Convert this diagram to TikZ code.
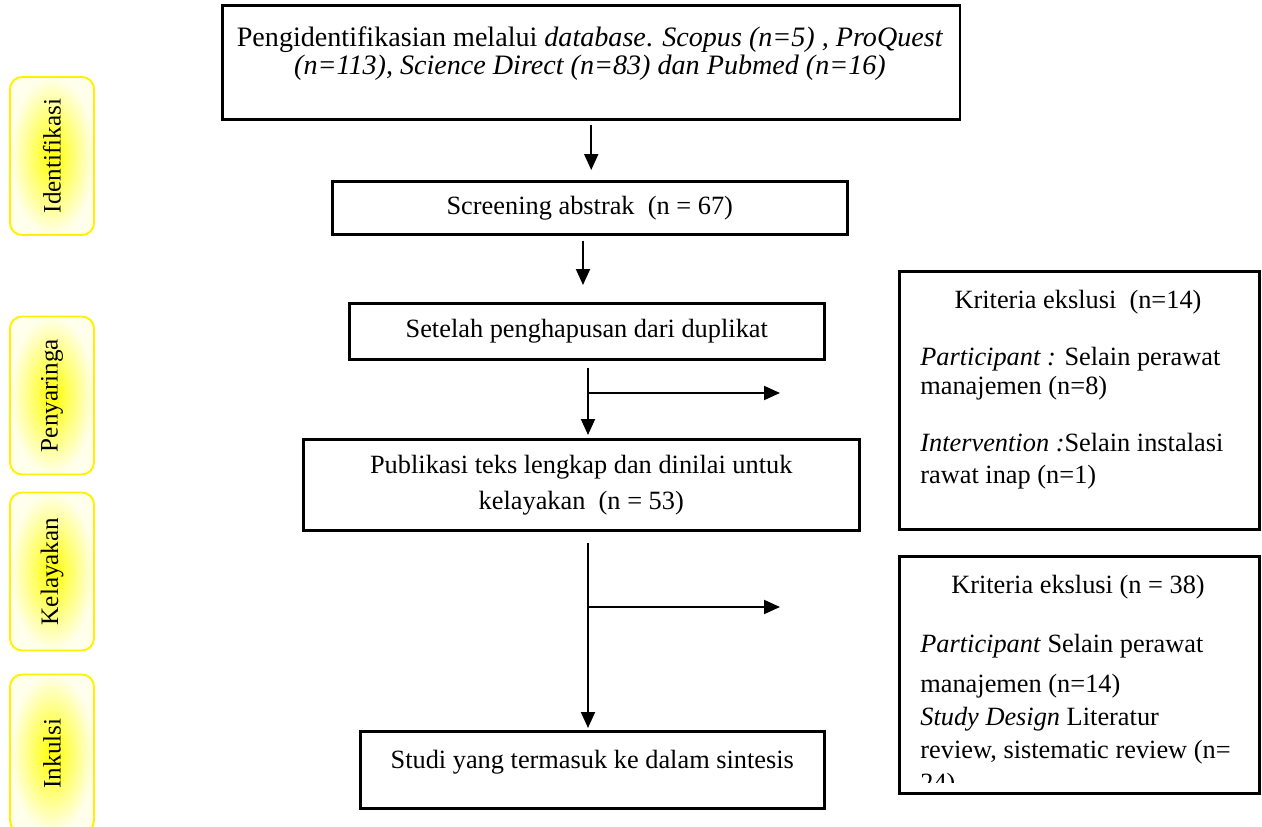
\documentclass[tikz,border=0pt]{standalone}
\usepackage{fontspec}
\setmainfont{Liberation Serif}
\usetikzlibrary{arrows.meta, positioning, calc}
\newcommand{\boxfont}{\fontsize{15}{18.5}\selectfont}
\newcommand{\topfont}{\fontsize{16}{16.5}\selectfont}
\newcommand{\critafont}{\fontsize{15}{16.4}\selectfont}
\newcommand{\critbfont}{\fontsize{15}{18.7}\selectfont}
\newcommand{\tabfont}{\fontsize{14.3}{17}\selectfont}

\begin{document}
\begin{tikzpicture}[x=0.02cm, y=-0.02cm,
  flowbox/.style={draw, line width=1.5pt, align=center, font=\boxfont, inner sep=0pt, anchor=north west},
  critbox/.style={draw, line width=1.5pt, inner sep=0pt, anchor=north west, minimum width=7.2cm},
  crittext/.style={text width=7cm, align=flush left, inner sep=0pt, anchor=base west},
  phasetab/.style={draw=yellow, line width=1.1pt, rounded corners=0.24cm, inner color=yellow, outer color=yellow!8,
    rotate=90, minimum width=3.16cm, minimum height=1.68cm, inner sep=0pt, font=\tabfont},
  flowarrow/.style={-{Triangle[length=0.32cm, width=0.28cm]}, line width=1.1pt}]
  \useasboundingbox (0,0) rectangle (1262,827);

  % Phase tabs
  \node[phasetab] (tab-ident) at (52,156) {Identifikasi};
  \node[phasetab] (tab-screen) at (52,395.5) {Penyaringa};
  \node[phasetab] (tab-elig) at (52,571.5) {Kelayakan};
  \node[phasetab] (tab-incl) at (52,753.5) {Inkulsi};

  % Flow boxes
  \node[flowbox, minimum width=14.76cm, minimum height=2.28cm] (ident) at (221,4) {};
  \node[font=\topfont, align=center, inner sep=0pt, anchor=base] (ident-t) at (590,75)
    {Pengidentifikasian melalui \textit{database}. \textit{Scopus (n=5) , ProQuest}\\
     \textit{(n=113), Science Direct (n=83) dan Pubmed (n=16)}};
  \node[flowbox, minimum width=10.3cm, minimum height=1.06cm] (screen) at (331,180) {Screening abstrak~~(n = 67)};
  \node[flowbox, minimum width=9.5cm, minimum height=1.12cm] (dup) at (348,302) {Setelah penghapusan dari duplikat};
  \node[flowbox, minimum width=11.12cm, minimum height=1.82cm] (publ) at (302,438)
    {Publikasi teks lengkap dan dinilai untuk\\[2pt] kelayakan~~(n = 53)};
  \node[flowbox, minimum width=9.28cm, minimum height=1.54cm, text depth=12pt] (incl) at (359,730)
    {Studi yang termasuk ke dalam sintesis};

  % Exclusion boxes
  \node[critbox, minimum height=5.16cm] (excl-a) at (898,270) {};
  \node[font=\boxfont, inner sep=0pt, anchor=base] (excl-a-h) at (1078,309) {Kriteria ekslusi~~(n=14)};
  \node[crittext, font=\critafont] (excl-a-t) at (920,366)
    {\textit{Participant :} Selain perawat\\ manajemen (n=8)\\[16pt]
     \textit{Intervention :}Selain instalasi\\[1.5pt] rawat inap (n=1)};

  \node[critbox, minimum height=4.74cm] (excl-b) at (898,555) {};
  \node[font=\boxfont, inner sep=0pt, anchor=base] (excl-b-h) at (1078,594) {Kriteria ekslusi (n = 38)};
  \begin{scope}
    \clip (900,557) rectangle (1256,782);
    \node[crittext, font=\critbfont] (excl-b-t) at (920,652)
      {\textit{Participant} Selain perawat\\[4.5pt] manajemen (n=14)\\ \textit{Study Design} Literatur\\
       review, sistematic review (n=\\ 24)};
  \end{scope}

  % Arrows
  \coordinate (spine) at (588,0);
  \coordinate (spine-b) at (583,0);
  \draw[flowarrow, shorten <=0.08cm, shorten >=0.2cm] (ident.south) -- (ident.south |- screen.north);
  \draw[flowarrow, shorten <=0.1cm, shorten >=0.34cm] (spine-b |- screen.south) -- (spine-b |- dup.north);
  \draw[flowarrow, shorten <=0.14cm, shorten >=0.06cm] (spine |- dup.south) -- (spine |- publ.north);
  \draw[flowarrow, shorten <=0.22cm, shorten >=0.04cm] (spine |- publ.south) -- (spine |- incl.north);
  \coordinate (excl-a-in) at (780,393);
  \coordinate (excl-b-in) at (780,607);
  \draw[flowarrow] (spine |- excl-a-in) -- (excl-a-in);
  \draw[flowarrow] (spine |- excl-b-in) -- (excl-b-in);
\end{tikzpicture}
\end{document}
